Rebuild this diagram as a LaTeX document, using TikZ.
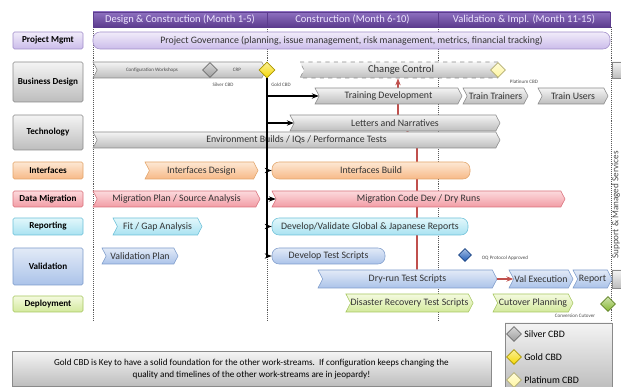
\documentclass[tikz,border=0pt]{standalone}
\usepackage{fontspec}
\setmainfont{Carlito}
\usetikzlibrary{arrows.meta, shapes.symbols, shapes.geometric, backgrounds}

\newcommand{\px}{0.025cm}

\definecolor{hdrtop}{HTML}{8E70C0}
\definecolor{hdrbot}{HTML}{5C3C8E}
\definecolor{hdrtext}{HTML}{EEE6FF}
\definecolor{lavtop}{HTML}{F1ECFA}
\definecolor{lavbot}{HTML}{CBBCEA}
\definecolor{lavline}{HTML}{A08CC8}
\definecolor{gtop}{HTML}{F4F4F4}
\definecolor{gbot}{HTML}{BDBDBD}
\definecolor{gline}{HTML}{8A8A8A}
\definecolor{otop}{HTML}{FDE8D4}
\definecolor{obot}{HTML}{F7B987}
\definecolor{oline}{HTML}{E2A46A}
\definecolor{ptop}{HTML}{FCDADD}
\definecolor{pbot}{HTML}{F29CA5}
\definecolor{pline}{HTML}{D9727C}
\definecolor{ctop}{HTML}{E2F7FB}
\definecolor{cbot}{HTML}{A9E2F1}
\definecolor{cline}{HTML}{6CC0D8}
\definecolor{btop}{HTML}{E2EAF7}
\definecolor{bbot}{HTML}{ABC3E9}
\definecolor{bline}{HTML}{7E9CCB}
\definecolor{vtop}{HTML}{F4FADF}
\definecolor{vbot}{HTML}{D3E99C}
\definecolor{vline}{HTML}{A6C660}
\definecolor{silvercbd}{HTML}{9C9C9C}
\definecolor{goldcbd}{HTML}{F5D800}
\definecolor{platcbd}{HTML}{FFF6A0}
\definecolor{oqcbd}{HTML}{1F5CB8}
\definecolor{convcbd}{HTML}{86B832}
\definecolor{redlink}{HTML}{C0504D}

\tikzset{
  tint/.style n args={3}{top color=#1, bottom color=#2, draw=#3},
  bar/.style={signal, signal to=east, signal from=west, signal pointer angle=125,
    minimum height=16*\px, inner sep=0pt, text=black!80,
    font=\fontsize{7}{8}\selectfont},
  roundbar/.style={rectangle, rounded corners=5pt, minimum height=16*\px,
    inner sep=0pt, text=black!80, font=\fontsize{7}{8}\selectfont},
  graybar/.style={bar, tint={gtop}{gbot}{gline}},
  orangebar/.style={bar, tint={otop}{obot}{oline}},
  pinkbar/.style={bar, tint={ptop}{pbot}{pline}},
  cyanbar/.style={bar, tint={ctop}{cbot}{cline}},
  bluebar/.style={bar, tint={btop}{bbot}{bline}},
  greenbar/.style={bar, tint={vtop}{vbot}{vline}},
  hdr/.style={rectangle, tint={hdrtop}{hdrbot}{hdrbot}, minimum height=15*\px,
    inner sep=0pt, text=hdrtext, font=\fontsize{7.5}{8}\selectfont},
  lane/.style={rectangle, rounded corners=1pt, minimum width=70*\px, inner sep=0pt,
    font=\bfseries\fontsize{6.5}{7}\selectfont},
  cbd/.style={diamond, minimum size=15*\px, inner sep=0pt,
    top color=#1!40, bottom color=#1, draw=#1!70!black},
  smalltag/.style={inner sep=0pt, text=black!70, font=\fontsize{3.6}{4}\selectfont},
  legtext/.style={inner sep=0pt, anchor=west, font=\fontsize{7}{8}\selectfont},
  guide/.style={densely dotted, gray!70!black, thin},
  spine/.style={line width=1.4pt, -{Stealth[length=5pt]}},
  redarrow/.style={redlink, line width=1.2pt, -{Stealth[length=5pt]}}
}

\begin{document}
\begin{tikzpicture}[x=\px, y=-\px]
	\useasboundingbox (0,0) rectangle (621,387);
	
	% Period guides
	\foreach \x in {93,267,438,611}
		\draw[guide] (\x,27) -- (\x,322);
	
	% Header
	\node[hdr, minimum width=174*\px] (h1) at (180,19.5) {Design \& Construction (Month 1-5)};
	\node[hdr, minimum width=171*\px] (h2) at (352.5,19.5) {Construction (Month 6-10)};
	\node[hdr, minimum width=172*\px] (h3) at (524,19.5) {Validation \& Impl. (Month 11-15)};
	
	% Work streams
	\node[lane, tint={lavtop}{lavbot}{lavline}, minimum height=17*\px] (lpm) at (48,40.5) {Project Mgmt};
	\node[lane, tint={gtop}{gbot}{gline}, minimum height=40*\px] (lbd) at (48,82) {Business Design};
	\node[lane, tint={gtop}{gbot}{gline}, minimum height=35*\px] (ltech) at (48,132.5) {Technology};
	\node[lane, tint={otop}{obot}{oline}, minimum height=17*\px] (lint) at (48,170.5) {Interfaces};
	\node[lane, tint={ptop}{pbot}{pline}, minimum height=16*\px] (ldm) at (48,199) {Data Migration};
	\node[lane, tint={ctop}{cbot}{cline}, minimum height=17*\px] (lrep) at (48,226.5) {Reporting};
	\node[lane, tint={btop}{bbot}{bline}, minimum height=37*\px] (lval) at (48,266.5) {Validation};
	\node[lane, tint={vtop}{vbot}{vline}, minimum height=16*\px] (ldep) at (48,304) {Deployment};
	
	% Project management
	\node[roundbar, tint={lavtop}{lavbot}{lavline}, minimum width=517*\px, minimum height=17*\px] (gov) at (351.5,40.5)
		{Project Governance (planning, issue management, risk management, metrics, financial tracking)};
	
	% Business design
	\node[graybar, minimum width=173*\px] (config) at (179.5,70) {};
	\node[smalltag] (cfgtag) at (152,70) {Configuration Workshops};
	\node[smalltag] (crptag) at (237,70) {CRP};
	\node[cbd=silvercbd] (silver) at (210,70) {};
	\node[cbd=goldcbd, minimum size=16*\px] (gold) at (267,70) {};
	\node[smalltag] (silvertag) at (223,85) {Silver CBD};
	\node[smalltag] (goldtag) at (281,85) {Gold CBD};
	\node[bar, signal to=nowhere, dashed, tint={gtop}{gbot}{gline}, minimum width=198*\px] (cc) at (401,70)
		{\fontsize{7.5}{8}\selectfont Change Control};
	\node[cbd=platcbd] (plat) at (498,70) {};
	\node[smalltag] (plattag) at (524,82) {Platinum CBD};
	\node[graybar, minimum width=147*\px] (trdev) at (388.5,96) {Training Development};
	\node[graybar, minimum width=65*\px] (trtr) at (495.5,96) {Train Trainers};
	\node[graybar, minimum width=70*\px] (trus) at (573,96) {Train Users};
	
	% Technology
	\node[graybar, minimum width=210*\px] (letters) at (395,123) {Letters and Narratives};
	\node[graybar, minimum width=407*\px] (env) at (296.5,140) {Environment Builds / IQs / Performance Tests};
	
	% Interfaces, migration, reporting
	\node[orangebar, minimum width=113*\px, minimum height=17*\px] (intd) at (201.5,170.5) {Interfaces Design};
	\node[roundbar, tint={otop}{obot}{oline}, minimum width=198*\px, minimum height=17*\px] (intb) at (371,170.5) {Interfaces Build};
	\node[pinkbar, minimum width=167*\px] (migp) at (176.5,199) {Migration Plan / Source Analysis};
	\node[pinkbar, minimum width=293*\px] (migc) at (418.5,199) {Migration Code Dev / Dry Runs};
	\node[cyanbar, minimum width=89*\px, minimum height=17*\px] (fitgap) at (157.5,226.5) {Fit / Gap Analysis};
	\node[roundbar, tint={ctop}{cbot}{cline}, minimum width=196*\px, minimum height=17*\px] (devrep) at (370,226.5)
		{Develop/Validate Global \& Japanese Reports};
	
	% Validation
	\node[bluebar, minimum width=76*\px] (valplan) at (140,256) {Validation Plan};
	\node[roundbar, tint={btop}{bbot}{bline}, minimum width=113*\px] (devts) at (328.5,256) {Develop Test Scripts};
	\node[cbd=oqcbd, minimum size=13*\px] (oq) at (465,255) {};
	\node[smalltag] (oqtag) at (505,258) {OQ Protocol Approved};
	\node[bluebar, minimum width=179*\px, minimum height=18*\px] (dry) at (407.5,279) {Dry-run Test Scripts};
	\node[bluebar, minimum width=64*\px, minimum height=18*\px] (valex) at (541,279) {Val Execution};
	\node[bluebar, minimum width=39*\px, minimum height=18*\px] (report) at (592.5,279) {Report};
	
	% Deployment
	\node[greenbar, minimum width=125*\px, minimum height=18*\px] (dr) at (409.5,303) {Disaster Recovery Test Scripts};
	\node[greenbar, minimum width=80*\px, minimum height=18*\px] (cut) at (533,303) {Cutover Planning};
	\node[cbd=convcbd] (conv) at (608,304) {};
	\node[smalltag] (convtag) at (575,316) {Conversion Cutover};
	
	% Support column
	\fill[tint={gtop}{gbot}{gline}] (612,62) rectangle (622,78);
	\fill[tint={gtop}{gbot}{gline}] (612,270) rectangle (622,288);
	\node[rotate=90, inner sep=0pt, text=black!70, font=\fontsize{6.5}{7}\selectfont] (support) at (616,205) {Support \& Managed Services};
	
	% Gold CBD feeds the other streams
	\draw[spine] (gold.south) |- (devts.west);
	\foreach \n in {trdev,letters,intb,migc,devrep}
		\draw[spine] (gold.south |- \n.west) -- (\n.west);
	
	% Dry runs feed change control
	\begin{pgfonlayer}{background}
		\coordinate (rb) at (417,0);
		\coordinate (rt) at (398,0);
		\draw[redarrow] (dry.north -| rb) -- (rb |- env.south) -- (rt |- letters.north) -- (rt |- cc.south);
	\end{pgfonlayer}
	\draw[redarrow] (dry.east) -- (valex.west);
	
	% Note
	\node[rectangle, tint={gtop}{gbot}{gline}, minimum width=479*\px, minimum height=35*\px, inner sep=0pt, align=center,
		font=\fontsize{6.5}{9}\selectfont] (note) at (251.5,369)
		{Gold CBD is Key to have a solid foundation for the other work-streams.\ \ If configuration keeps changing the\\
		quality and timelines of the other work-streams are in jeopardy!};
	
	% Legend
	\node[rectangle, tint={gtop}{gbot}{gline}, minimum width=107*\px, minimum height=66*\px] (legend) at (558.5,356) {};
	\node[cbd=silvercbd] (lsilver) at (514,334) {};
	\node[legtext] at (524,334) {Silver CBD};
	\node[cbd=goldcbd] (lgold) at (514,357) {};
	\node[legtext] at (524,357) {Gold CBD};
	\node[cbd=platcbd] (lplat) at (514,380) {};
	\node[legtext] at (524,380) {Platinum CBD};
\end{tikzpicture}
\end{document}
